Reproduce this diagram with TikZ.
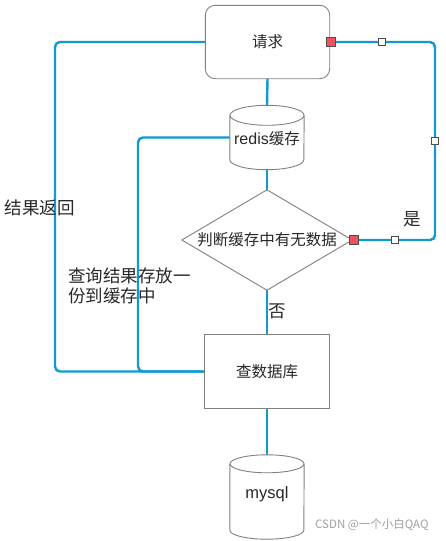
\documentclass[tikz,border=0pt]{standalone}
\usepackage{fontspec}
\setmainfont{Noto Sans CJK SC}
\newfontfamily\latf{Liberation Sans}
\definecolor{flow}{RGB}{16,154,208}
\definecolor{edge}{RGB}{128,128,128}
\definecolor{txt}{RGB}{40,40,40}
\definecolor{mark}{RGB}{240,80,95}
\definecolor{wm}{RGB}{160,160,160}
\tikzset{
  shapebox/.style={draw=edge, line width=0.9pt, fill=white, text=txt, font=\fontsize{15.5}{18}\selectfont, inner sep=0pt},
  ghost/.style={draw=none, text=txt, font=\fontsize{15.5}{18}\selectfont, inner sep=0pt},
  conn/.style={draw=flow, line width=2.4pt},
  redmark/.style={draw=edge!60!black, fill=mark, line width=0.8pt, minimum size=9pt, inner sep=0pt},
  whitemark/.style={draw=black!70, fill=white, line width=0.8pt, minimum size=6.5pt, inner sep=0pt},
  lbl/.style={text=txt, font=\fontsize{17.5}{20}\selectfont, inner sep=0pt},
}
\begin{document}
\begin{tikzpicture}[x=1pt,y=1pt]
\useasboundingbox (0,0) rectangle (446,-541);
\node[ghost, minimum width=74pt, minimum height=64pt] (redis) at (267,-137.5) {};
\node[ghost, minimum width=170pt, minimum height=100pt] (dec) at (267,-240) {};
\node[ghost, minimum width=124pt, minimum height=74pt] (db) at (267,-371.5) {};
\node[ghost, minimum width=74pt, minimum height=84pt] (mysql) at (267,-497) {};
\node[ghost, minimum width=124pt, minimum height=73pt] (req) at (267.5,-42) {};

% connectors (behind shapes)
\draw[conn] (req.south) -- (redis.north);
\draw[conn] (redis.south) -- (dec.north);
\draw[conn] (dec.south) -- (db.north);
\draw[conn] (db.south) -- (mysql.north);
\draw[conn, rounded corners=5pt] (db.west) -- (55,-371.5) |- (req.west);
\draw[conn, rounded corners=5pt] (db.west) -- (138,-371.5) |- (redis.west);
\draw[conn, rounded corners=5pt] (dec.east) -- (435,-240) |- (req.east);

% request box
\draw[shapebox, rounded corners=10pt] (req.south west) rectangle (req.north east);
\node[ghost] at (req.center) {请求};

% redis cylinder
\draw[edge, line width=0.9pt, fill=white]
  ([yshift=-10pt]redis.north west) -- ([yshift=10pt]redis.south west)
  arc[start angle=180, end angle=360, x radius=37pt, y radius=10pt]
  -- ([yshift=-10pt]redis.north east);
\draw[edge, line width=0.9pt, fill=white] ([yshift=-10pt]redis.north) ellipse[x radius=37pt, y radius=10pt];
\node[ghost] at ([yshift=-1pt]redis.center) {{\latf\fontsize{16}{18}\selectfont redis}缓存};

% decision diamond
\draw[shapebox] (dec.north) -- (dec.east) -- (dec.south) -- (dec.west) -- cycle;
\node[ghost] at (dec.center) {判断缓存中有无数据};

% db rect
\draw[shapebox] (db.south west) rectangle (db.north east);
\node[ghost] at (db.center) {查数据库};

% mysql cylinder
\draw[edge, line width=0.9pt, fill=white]
  ([yshift=-9pt]mysql.north west) -- ([yshift=9pt]mysql.south west)
  arc[start angle=180, end angle=360, x radius=37pt, y radius=9pt]
  -- ([yshift=-9pt]mysql.north east);
\draw[edge, line width=0.9pt, fill=white] ([yshift=-9pt]mysql.north) ellipse[x radius=37pt, y radius=9pt];
\node[ghost] at ([yshift=3pt]mysql.center) {\latf\fontsize{16.5}{18}\selectfont mysql};

% markers
\node[redmark] (m1) at ([xshift=1pt]req.east) {};
\node[redmark] (m2) at ([xshift=1.5pt]dec.east) {};
\node[whitemark] (w1) at (382,-42) {};
\node[whitemark] (w2) at (435,-141) {};
\node[whitemark] (w3) at (395,-240) {};

% labels
\node[lbl] (yes) at (412,-219) {是};
\node[lbl, anchor=west] (no) at (268,-311) {否};
\node[lbl] (ret) at (40,-208) {结果返回};
\node[lbl, anchor=north west, align=left] (store) at (68,-268) {查询结果存放一\\份到缓存中};
\node[anchor=west, text=wm, font=\fontsize{11.5}{13}\selectfont, inner sep=0pt] (wmk) at (315,-525) {CSDN @一个小白QAQ};
\end{tikzpicture}
\end{document}
